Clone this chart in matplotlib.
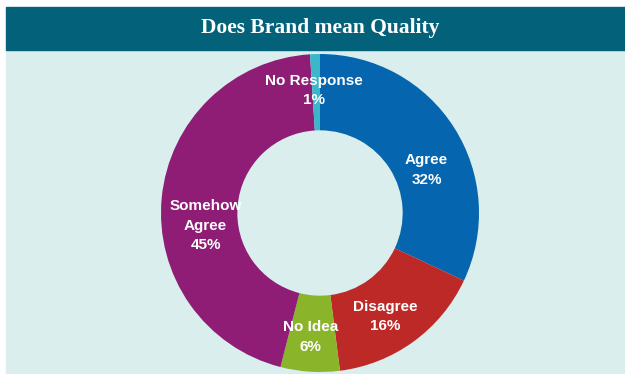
import matplotlib.pyplot as plt
from matplotlib.patches import Rectangle

TITLE = "Does Brand mean Quality"
labels = ["Agree", "Disagree", "No Idea", "Somehow\nAgree", "No Response"]
shares = [32, 16, 6, 45, 1]
colors = ["#0565ae", "#bd2926", "#8ab42a", "#8f1d76", "#3cb6c9"]

# label centres, in donut units (radius 1)
label_pos = [(0.67, 0.27), (0.41, -0.65), (-0.06, -0.78), (-0.72, -0.08), (-0.04, 0.77)]

W, H = 625, 374
fig = plt.figure(figsize=(W / 100, H / 100), dpi=100, facecolor="white")

# panel background and title bar
fig.patches.append(Rectangle((6 / W, 0), 1 - 6 / W, (H - 50) / H,
                             transform=fig.transFigure, color="#d9eeed", zorder=-2))
fig.patches.append(Rectangle((6 / W, (H - 50) / H), 1 - 6 / W, 43 / H,
                             transform=fig.transFigure, color="#03627a", zorder=-2))
fig.text(320 / W, (H - 28.5) / H, TITLE, ha="center", va="center", color="white",
         fontsize=15.5, fontweight="bold", family="Liberation Serif")

ax = fig.add_axes([161 / W, 2 / H, 318 / W, 318 / H])
ax.set_zorder(1)
ax.set_facecolor("none")
ax.pie(shares, colors=colors, startangle=90, counterclock=False, radius=1.0,
       wedgeprops=dict(width=0.48, linewidth=0))
ax.set_xlim(-1, 1)
ax.set_ylim(-1, 1)
ax.set_aspect("equal")
ax.axis("off")

for lab, val, (x, y) in zip(labels, shares, label_pos):
    ax.text(x, y, f"{lab}\n{val}%", ha="center", va="center", color="white",
            fontsize=11, fontweight="bold", linespacing=1.5,
            family=["Liberation Sans Narrow", "Liberation Sans"])

fig.savefig("out.png", dpi=100, facecolor="white")
